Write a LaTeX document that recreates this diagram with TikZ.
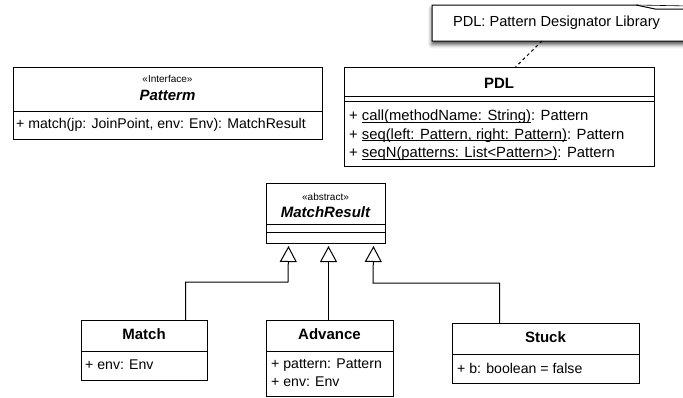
\documentclass[tikz,border=0pt]{standalone}
\usepackage{fontspec}
\setmainfont{Liberation Sans}
\usetikzlibrary{arrows.meta,shadows.blur}
\newcommand\myul[1]{\setbox0\hbox{#1}\rlap{\rule[-1.8pt]{\wd0}{0.7pt}}\box0}
\begin{document}
\begin{tikzpicture}[x=1pt,y=-1pt,
  box/.style={draw=black, line width=1pt, fill=white, inner sep=0pt, anchor=north west},
  ster/.style={font=\fontsize{10}{12}\selectfont, inner sep=0pt},
  cname/.style={font=\fontsize{15}{18}\selectfont\bfseries, inner sep=0pt},
  aname/.style={font=\fontsize{15}{18}\selectfont\bfseries\itshape, inner sep=0pt},
  member/.style={font=\fontsize{14.1}{17}\selectfont, inner sep=0pt, anchor=west},
  pdlmember/.style={member, font=\fontsize{14.8}{17}\selectfont},
  sepline/.style={line width=1pt},
  gen/.style={line width=1pt, -{Triangle[open, length=16pt, width=17pt, line width=1pt]}},
  notedash/.style={line width=1pt, dashed},
]
\useasboundingbox (0,0) rectangle (683,397);

% Note
\path[draw=black, line width=1pt, fill=white, blur shadow={shadow xshift=0pt, shadow yshift=-3.5pt, shadow blur radius=4pt, shadow opacity=70}]
  (432,41) -- (432,5) -- (636,5) -- (655,9) -- (690,9) -- (690,41) -- cycle;
\draw[line width=0.6pt] (636,5) -- (690,6);
\node[inner sep=0pt, font=\fontsize{14.6}{17}\selectfont] (note) at (556.5,23) {PDL: Pattern Designator Library};

% Patterm
\node[box, minimum width=309pt, minimum height=72pt] (patterm) at (13,67) {};
\draw[sepline] (13,111) -- (322,111);
\node[ster] (pattermst) at (167.5,79) {«Interface»};
\node[aname] (pattermname) at (167.5,95) {Patterm};
\node[member] (pattermm) at (16,125) {+ match(jp: JoinPoint, env: Env): MatchResult};

% PDL
\node[box, minimum width=310pt, minimum height=99pt] (pdl) at (344,67) {};
\draw[sepline] (344,96) -- (654,96);
\draw[sepline] (344,101) -- (654,101);
\node[cname] (pdlname) at (499,83) {PDL};
\node[pdlmember] (pdl1) at (349,117) {+ \myul{call(methodName: String)}: Pattern};
\node[pdlmember] (pdl2) at (349,135.5) {+ \myul{seq(left: Pattern, right: Pattern)}: Pattern};
\node[pdlmember] (pdl3) at (349,154) {+ \myul{seqN(patterns: List<Pattern>)}: Pattern};

\coordinate (nb) at (542,41);
\draw[notedash] (nb) -- ([xshift=16pt]pdl.north);

% MatchResult
\node[box, minimum width=119pt, minimum height=60pt] (mr) at (266,183) {};
\draw[sepline] (266,224) -- (385,224);
\draw[sepline] (266,232) -- (385,232);
\node[ster] (mrst) at (325.5,197) {«abstract»};
\node[aname] (mrname) at (325.5,212) {MatchResult};

% Match
\node[box, minimum width=126pt, minimum height=60pt] (match) at (81,320) {};
\draw[sepline] (81,351) -- (207,351);
\node[cname] (matchname) at (144,334) {Match};
\node[member] (match1) at (85,365) {+ env: Env};

% Advance
\node[box, minimum width=127pt, minimum height=76pt] (adv) at (266,320) {};
\draw[sepline] (266,351) -- (393,351);
\node[cname] (advname) at (329.5,334) {Advance};
\node[member] (adv1) at (271,365) {+ pattern: Pattern};
\node[member] (adv2) at (271,382) {+ env: Env};

% Stuck
\node[box, minimum width=187pt, minimum height=60pt] (stuck) at (452,323) {};
\draw[sepline] (452,354) -- (639,354);
\node[cname] (stuckname) at (545.5,337) {Stuck};
\node[member] (stuck1) at (457,368) {+ b: boolean = false};

% Generalizations
\coordinate (t1) at ([xshift=-37.5pt,yshift=-2pt]mr.south);
\coordinate (t2) at ([xshift=2.5pt,yshift=-2pt]mr.south);
\coordinate (t3) at ([xshift=47.5pt,yshift=-2pt]mr.south);
\coordinate (k1) at (288,282);
\coordinate (k3) at (373,283);
\draw[gen] ([xshift=41pt]match.north) |- (k1) -- (t1);
\draw[gen] (t2 |- adv.north) -- (t2);
\draw[gen] ([xshift=-46.5pt]stuck.north) |- (k3) -- (t3);
\end{tikzpicture}
\end{document}
